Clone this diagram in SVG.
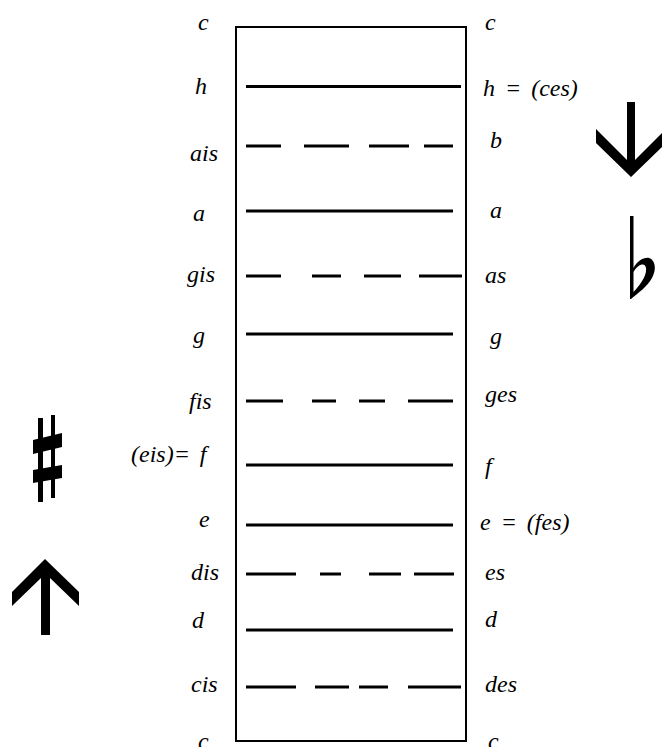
<svg xmlns="http://www.w3.org/2000/svg" width="662" height="747" viewBox="0 0 662 747">
<style>
text{font-family:"Liberation Serif","Times New Roman",serif;font-style:italic;font-size:24px;fill:#000;word-spacing:4px}
.ln{stroke:#000;stroke-width:3;fill:none}
</style>
<rect width="662" height="747" fill="#fff"/>
<g id="box"><rect x="236" y="27" width="230" height="714" fill="none" stroke="#000" stroke-width="2"/></g>
<g id="lines">
<path class="ln" d="M246,86.5H461"/>
<path class="ln" d="M246,146H281M304,146H349M369,146H409M424,146H453"/>
<path class="ln" d="M246,211H453"/>
<path class="ln" d="M246,276H281M312,276H341M364,276H401M419,276H462"/>
<path class="ln" d="M246,334H453"/>
<path class="ln" d="M246,401H283M312,401H336M359,401H385M408,401H453"/>
<path class="ln" d="M246,465H453"/>
<path class="ln" d="M246,525H453"/>
<path class="ln" d="M246,574H296M320,574H341M369,574H401M414,574H454"/>
<path class="ln" d="M246,630H453"/>
<path class="ln" d="M246,687H296M315,687H349M359,687H388M408,687H461"/>
</g>
<g id="left-labels">
<text x="198" y="30">c</text>
<text x="195" y="94">h</text>
<text x="190" y="161">ais</text>
<text x="193" y="221">a</text>
<text x="187" y="282">gis</text>
<text x="193" y="343">g</text>
<text x="189" y="409">fis</text>
<text x="131" y="462">(eis)= f</text>
<text x="199" y="527">e</text>
<text x="191" y="580">dis</text>
<text x="192" y="628">d</text>
<text x="191" y="692">cis</text>
<text x="198" y="749">c</text>
</g>
<g id="right-labels">
<text x="485" y="30">c</text>
<text x="483" y="96">h = (ces)</text>
<text x="490" y="148">b</text>
<text x="490" y="218">a</text>
<text x="485" y="283">as</text>
<text x="490" y="344">g</text>
<text x="485" y="402">ges</text>
<text x="485" y="474">f</text>
<text x="480" y="530">e = (fes)</text>
<text x="485" y="580">es</text>
<text x="485" y="627">d</text>
<text x="485" y="692">des</text>
<text x="488" y="749">c</text>
</g>
<g id="sharp">
<polygon points="38,418 43,418 43,502 38,502"/>
<polygon points="51,415 55,415 55,498 51,498"/>
<polygon points="33,440 62,433 62,447 33,454"/>
<polygon points="33,470 62,465 62,478 33,483"/>
</g>
<g id="up-arrow">
<polygon points="45,559 79,592 79,606 50,578 50,635 41,635 41,578 12,606 12,592"/>
</g>
<g id="down-arrow">
<polygon points="631,177 596,143 596,129 627,160 627,102 635,102 635,160 666,129 666,143"/>
</g>
<g id="flat">
<path fill-rule="evenodd" d="M630,216 L633.5,216 L633.5,268 C637,261 644,257 649,258 C655,260 657,268 652,278 C647,287 638,293 631,299 L630,299 Z M633.5,292 C640,285 647,276 646,268 C645,262 638,264 633.5,272 Z"/>
</g>
</svg>
